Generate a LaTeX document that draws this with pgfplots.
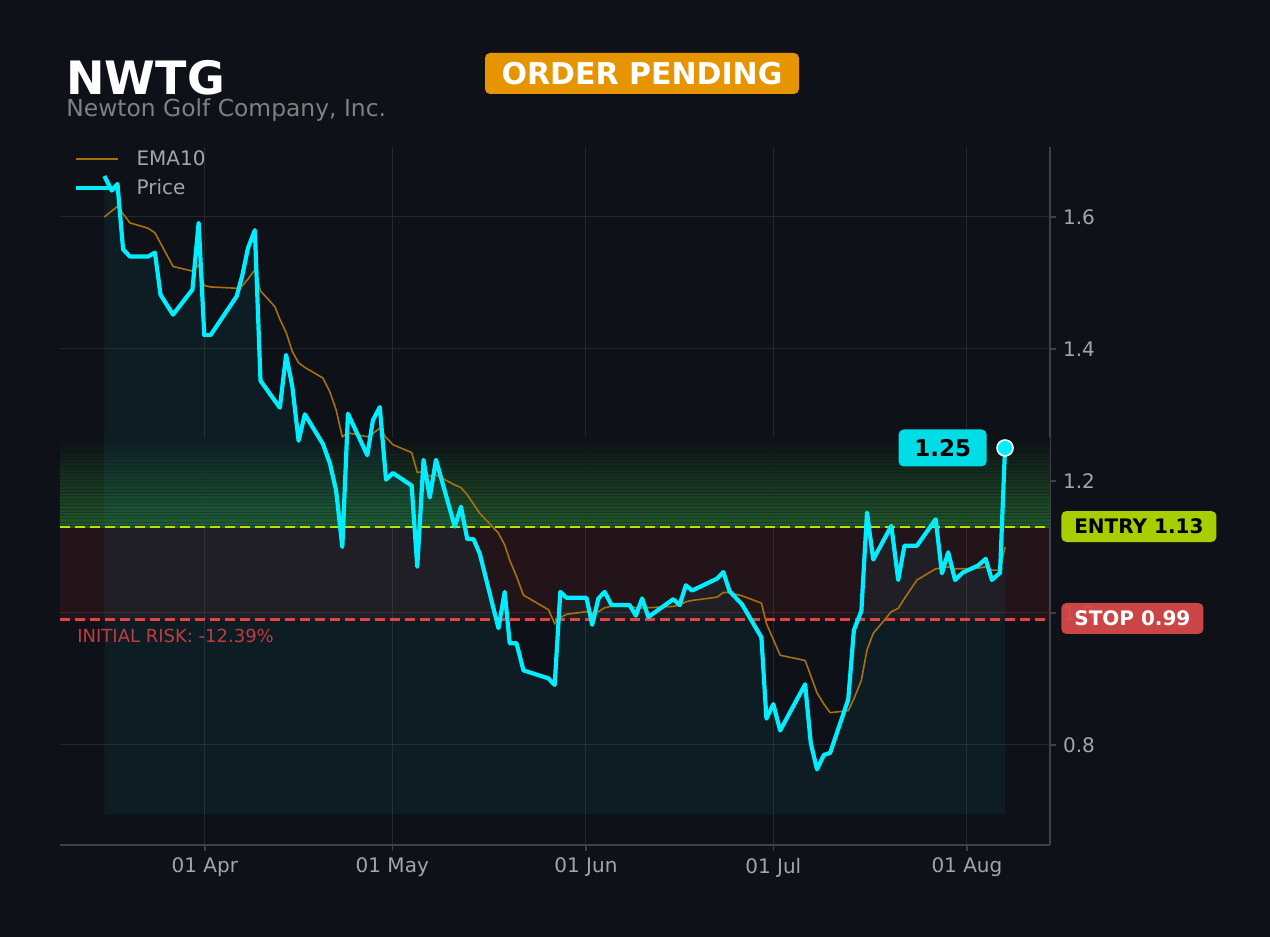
\documentclass[border=0pt]{standalone}
\usepackage{pgfplots}
\usepackage{pgfplotstable}
\pgfplotsset{compat=1.18}
\usepackage{fontspec}
\setmainfont{DejaVu Sans}
\definecolor{bg}{RGB}{14,17,23}
\definecolor{axisgray}{RGB}{62,65,72}
\definecolor{gridgray}{RGB}{36,39,46}
\definecolor{tickgray}{RGB}{165,165,165}
\definecolor{subgray}{RGB}{128,128,128}
\definecolor{pricecol}{RGB}{0,238,255}
\definecolor{emacol}{RGB}{168,112,12}
\definecolor{entrycol}{RGB}{190,225,0}
\definecolor{entrybox}{RGB}{166,206,0}
\definecolor{stopcol}{RGB}{226,68,68}
\definecolor{stopbox}{RGB}{218,72,74}
\definecolor{riskcol}{RGB}{192,60,64}
\definecolor{orangebox}{RGB}{230,149,0}
\definecolor{labcyan}{RGB}{0,221,230}
\definecolor{bandgreen}{RGB}{34,92,44}
\definecolor{redzone}{RGB}{220,50,60}

\pgfplotstableread{
d v
-16.1 1.662
-14.9 1.640
-14.0 1.650
-13.1 1.551
-12.0 1.540
-9.1 1.540
-8.0 1.546
-7.1 1.482
-5.1 1.452
-2.0 1.490
-1.0 1.591
-0.1 1.421
0.9 1.421
5.1 1.480
6.0 1.512
6.9 1.553
8.0 1.580
8.9 1.352
12.0 1.311
13.0 1.391
14.0 1.343
15.0 1.261
16.0 1.301
18.9 1.256
20.0 1.227
21.0 1.186
22.0 1.100
22.9 1.302
26.0 1.239
26.9 1.292
28.0 1.312
29.0 1.202
30.1 1.212
33.1 1.193
34.0 1.070
35.0 1.232
36.0 1.175
37.0 1.232
40.0 1.131
41.0 1.161
42.0 1.112
43.0 1.112
44.0 1.090
47.0 0.977
48.0 1.032
48.8 0.954
49.9 0.954
51.0 0.913
55.0 0.901
56.0 0.891
56.9 1.032
57.9 1.023
61.1 1.023
62.0 0.982
63.0 1.022
64.0 1.032
65.1 1.012
68.0 1.012
69.0 0.996
70.0 1.022
71.0 0.994
75.0 1.021
76.0 1.012
77.0 1.042
78.0 1.034
82.0 1.052
83.0 1.062
84.0 1.033
86.0 1.013
89.1 0.963
89.9 0.840
91.0 0.862
92.1 0.822
96.1 0.892
97.0 0.803
98.0 0.763
99.1 0.785
100.1 0.788
103.0 0.869
103.9 0.974
105.1 1.003
106.0 1.152
107.0 1.081
109.9 1.132
111.0 1.050
112.0 1.102
114.0 1.102
117.0 1.142
118.0 1.060
119.0 1.092
120.1 1.050
121.3 1.061
123.8 1.072
125.0 1.082
126.0 1.050
127.3 1.061
128.1 1.250
}\price

\pgfplotstableread{
d v
-16.1 1.600
-14.0 1.616
-12.0 1.591
-9.1 1.583
-8.0 1.576
-5.1 1.525
-2.0 1.518
-1.0 1.527
-0.1 1.496
0.9 1.494
5.1 1.492
6.0 1.496
6.9 1.506
8.0 1.520
8.9 1.488
11.2 1.464
12.0 1.445
13.0 1.425
14.0 1.396
15.0 1.379
16.0 1.372
18.9 1.356
20.0 1.335
21.0 1.308
22.0 1.267
22.9 1.273
26.0 1.267
26.9 1.272
28.0 1.280
29.0 1.266
30.1 1.255
33.1 1.243
34.0 1.213
35.0 1.214
36.0 1.207
37.0 1.209
40.0 1.194
41.0 1.190
42.0 1.179
43.0 1.165
44.0 1.151
47.0 1.121
48.0 1.103
48.8 1.080
49.9 1.055
51.0 1.027
55.0 1.005
56.0 0.984
56.9 0.993
57.9 0.998
61.1 1.002
62.0 1.000
63.0 1.002
64.0 1.008
65.1 1.010
68.0 1.010
69.0 1.008
70.0 1.008
71.0 1.008
75.0 1.010
76.0 1.012
77.0 1.017
78.0 1.019
82.0 1.024
83.0 1.031
84.0 1.031
86.0 1.026
89.1 1.015
89.9 0.984
92.1 0.936
96.1 0.928
97.0 0.905
98.0 0.879
99.1 0.862
100.1 0.849
103.0 0.852
103.9 0.870
105.1 0.898
106.0 0.944
107.0 0.969
109.9 1.002
111.0 1.007
112.0 1.022
114.0 1.050
117.0 1.067
118.0 1.068
119.0 1.070
120.1 1.067
121.3 1.067
123.8 1.068
125.0 1.070
126.0 1.065
127.3 1.065
128.1 1.100
}\ema

\begin{document}
\begin{tikzpicture}
\useasboundingbox (0,0) rectangle (635pt,468.5pt);
\fill[bg] (0,0) rectangle (635pt,468.5pt);

% titles
\node[anchor=base west, inner sep=0pt, text=white, font=\fontsize{23}{26}\selectfont\bfseries] at (33pt,421pt) {NWTG};
\node[anchor=base west, inner sep=0pt, text=subgray, font=\fontsize{11.7}{13}\selectfont] at (33pt,410pt) {Newton Golf Company, Inc.};
\node[fill=orangebox, rounded corners=2.5pt, minimum width=157pt, minimum height=20.5pt, inner sep=0pt, text=white, font=\fontsize{15}{17}\selectfont\bfseries] at (321pt,431.75pt) {ORDER PENDING};

\begin{axis}[
  at={(30pt,46pt)}, anchor=south west,
  scale only axis, width=495pt, height=349pt,
  xmin=-23.2, xmax=135.3, ymin=0.6485, ymax=1.706,
  clip=false,
  axis x line=bottom, axis y line=right,
  axis line style={draw=axisgray, line width=0.6pt, -},
  tick align=outside, major tick length=3pt,
  tick style={draw=axisgray, line width=0.6pt},
  xtick={0,30,61,91,122},
  xticklabels={01 Apr,01 May,01 Jun,01 Jul,01 Aug},
  ytick={0.8,1.0,1.2,1.4,1.6},
  /pgf/number format/assume math mode=true,
  yticklabel style={/pgf/number format/fixed, /pgf/number format/fixed zerofill, /pgf/number format/precision=1},
  ticklabel style={text=tickgray, font=\fontsize{10}{12}\selectfont},
  grid=major,
  major grid style={draw=gridgray, line width=0.5pt},
  legend style={at={(0,1)}, anchor=north west, xshift=4pt, yshift=2.5pt, draw=none, fill=none, text=tickgray, font=\fontsize{10}{12}\selectfont, row sep=1.5pt},
  legend cell align=left,
  legend image code/.code={\draw[#1] (0pt,0pt) -- (21pt,0pt); \path (27pt,0pt);},
]
% red risk zone
\fill[redzone, opacity=0.1] (axis cs:-23.2,0.99) rectangle (axis cs:135.3,1.13);
% green band
\shade[top color=bg, bottom color=bandgreen, opacity=0.95] (axis cs:-23.2,1.13) rectangle (axis cs:135.3,1.2656);
\pgfplotsinvokeforeach{0,...,26}{
  \draw[bg, opacity=0.35, line width=0.45pt] (axis cs:-23.2,{1.1325+0.005*#1}) -- (axis cs:135.3,{1.1325+0.005*#1});
}
% fill under price
\addplot[draw=none, fill=pricecol, fill opacity=0.055, forget plot] table[x=d,y=v]{\price} -- (axis cs:128.1,0.695) -- (axis cs:-16.1,0.695) -- cycle;
% entry / stop
\addplot[entrycol, line width=1.15pt, dash pattern=on 5pt off 2.5pt, forget plot] coordinates {(-23.2,1.13) (135.3,1.13)};
\addplot[stopcol, line width=1.15pt, dash pattern=on 5pt off 2.5pt, forget plot] coordinates {(-23.2,0.99) (135.3,0.99)};
% series
\addplot[emacol, line width=0.8pt, legend image code/.code={\draw[emacol, line width=1pt] (0pt,0pt) -- (21pt,0pt); \path (27pt,0pt);}] table[x=d,y=v]{\ema};
\addlegendentry{EMA10}
\addplot[pricecol, line width=2.1pt, line join=round] table[x=d,y=v]{\price};
\addlegendentry{Price}
\addplot[only marks, mark=*, mark size=4pt, mark options={fill=pricecol, draw=white, line width=0.8pt}, forget plot] coordinates {(128.1,1.25)};
% labels
\node[anchor=east, xshift=-9pt, fill=labcyan, rounded corners=2.5pt, minimum width=44pt, minimum height=18.5pt, inner sep=0pt, text=black, font=\fontsize{11.5}{13}\selectfont\bfseries] at (axis cs:128.1,1.25) {1.25};
\node[anchor=west, xshift=5.5pt, fill=entrybox, rounded corners=2.5pt, minimum width=77.5pt, minimum height=15.5pt, inner sep=0pt, text=black, font=\fontsize{10}{12}\selectfont\bfseries] at (axis cs:135.3,1.131) {ENTRY 1.13};
\node[anchor=west, xshift=5.5pt, fill=stopbox, fill opacity=0.93, text opacity=1, rounded corners=2.5pt, minimum width=71pt, minimum height=15.5pt, inner sep=0pt, text=white, font=\fontsize{10}{12}\selectfont\bfseries] at (axis cs:135.3,0.9917) {STOP 0.99};
\node[anchor=west, xshift=8.5pt, inner sep=0pt, text=riskcol, font=\fontsize{9}{11}\selectfont] at (axis cs:-23.2,0.965) {INITIAL RISK: -12.39\%};
\end{axis}
\end{tikzpicture}
\end{document}
